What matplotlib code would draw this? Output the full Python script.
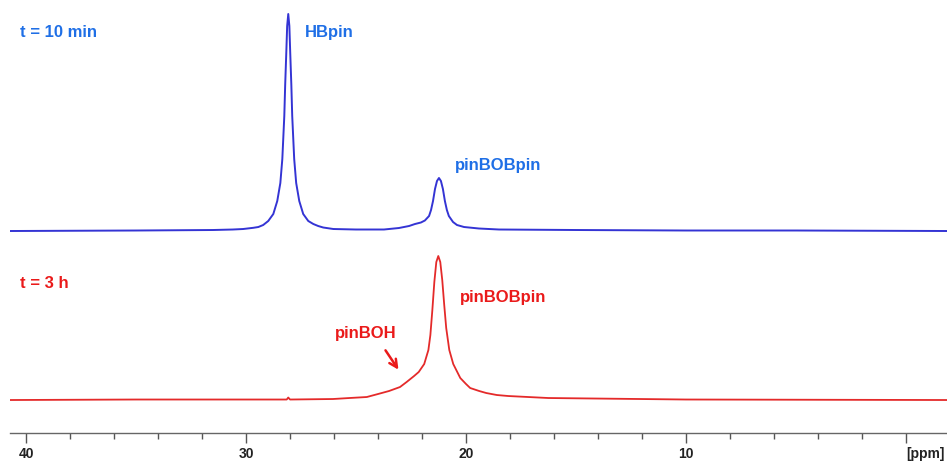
import matplotlib
matplotlib.use("Agg")
import matplotlib.pyplot as plt
from matplotlib.ticker import MultipleLocator, FixedLocator

plt.rcParams['font.family'] = ['Liberation Sans', 'DejaVu Sans']

# 11B spectrum after 10 min: chemical shift (ppm) and intensity (a.u.)
ppm_10min = [40.7, 35.0, 31.5, 30.6, 30.13, 29.67, 29.44, 29.22, 28.99, 28.76,
             28.58, 28.44, 28.35, 28.26, 28.22, 28.17, 28.13, 28.08, 28.03, 27.99,
             27.94, 27.90, 27.81, 27.72, 27.58, 27.40, 27.17, 26.94, 26.72, 26.49,
             26.03, 25.0, 23.73, 23.05, 22.59, 22.32, 22.05, 21.87, 21.68, 21.59,
             21.50, 21.41, 21.32, 21.23, 21.14, 21.05, 20.96, 20.87, 20.78, 20.59,
             20.41, 20.09, 19.41, 18.5, 15.0, 10.0, 5.0, -1.9]
int_10min = [0.0, 0.5, 1.0, 1.5, 2.0, 3.2, 4.0, 6.0, 10.0, 17.0,
             30.0, 48.0, 72.0, 115.0, 146.0, 178.0, 205.0, 217.0, 205.0, 178.0,
             146.0, 115.0, 72.0, 48.0, 30.0, 17.0, 10.0, 7.0, 5.0, 3.5,
             2.0, 1.5, 1.5, 3.0, 5.0, 7.0, 8.5, 10.5, 15.0, 21.0,
             30.0, 42.0, 50.0, 53.0, 50.0, 42.0, 30.0, 21.0, 15.0, 9.0,
             6.0, 4.0, 2.5, 1.5, 1.0, 0.5, 0.5, 0.0]

# 11B spectrum after 3 h
ppm_3h = [40.7, 35.0, 30.0, 28.15, 28.08, 28.0, 26.05, 25.3, 24.51, 24.0,
          23.5, 23.0, 22.7, 22.36, 22.15, 21.90, 21.71, 21.62, 21.53, 21.44,
          21.35, 21.26, 21.17, 21.08, 20.99, 20.90, 20.76, 20.58, 20.26, 20.0,
          19.81, 19.4, 19.08, 18.6, 18.08, 16.26, 10.0, -1.9]
int_3h = [0.0, 0.5, 0.5, 0.5, 2.5, 0.5, 1.0, 2.0, 3.0, 6.0,
          9.0, 13.0, 18.0, 24.0, 28.0, 36.0, 50.0, 65.0, 90.0, 118.0,
          138.0, 144.0, 138.0, 120.0, 95.0, 72.0, 50.0, 36.0, 22.0, 16.0,
          12.0, 9.0, 7.0, 5.0, 4.0, 2.0, 0.5, 0.0]

offset_10min = 202
offset_3h = 33

blue_line = '#3434d4'
blue_text = '#1f6fe6'
red_line = '#e42a2a'
red_text = '#ea1a1a'

fig = plt.figure(figsize=(9.47, 4.61), dpi=100)
ax = fig.add_axes([0.0106, 0.0607, 0.9894, 0.9393])

ax.plot(ppm_10min, [v + offset_10min for v in int_10min], color=blue_line, lw=1.4)
ax.plot(ppm_3h, [v + offset_3h for v in int_3h], color=red_line, lw=1.3)

ax.set_xlim(40.727, -1.864)
ax.set_ylim(0, 433)

for s in ['top', 'left', 'right']:
    ax.spines[s].set_visible(False)
ax.spines['bottom'].set_color('#666666')
ax.spines['bottom'].set_linewidth(1.0)
ax.set_yticks([])

ax.xaxis.set_major_locator(FixedLocator([40, 30, 20, 10, 0]))
ax.xaxis.set_minor_locator(MultipleLocator(2))
ax.set_xticklabels(['40', '30', '20', '10', '[ppm]'], fontsize=10,
                   fontweight='bold', color='#222222')
ax.tick_params(axis='x', which='major', length=7, width=1.0, color='#555555', pad=3)
ax.tick_params(axis='x', which='minor', length=4, width=1.0, color='#555555')
ax.get_xticklabels()[-1].set_horizontalalignment('left')

lab = dict(fontsize=12, fontweight='bold', va='center')
ax.text(40.27, 401, 't = 10 min', color=blue_text, ha='left', **lab)
ax.text(27.32, 401, 'HBpin', color=blue_text, ha='left', **lab)
ax.text(20.5, 268, 'pinBOBpin', color=blue_text, ha='left', **lab)

ax.text(40.27, 150, 't = 3 h', color=red_text, ha='left', **lab)
ax.text(20.27, 136, 'pinBOBpin', color=red_text, ha='left', **lab)
ax.text(24.55, 100, 'pinBOH', color=red_text, ha='center', **lab)
ax.annotate('', xy=(23.0, offset_3h + 28), xytext=(23.73, offset_3h + 52),
            arrowprops=dict(arrowstyle='->', color=red_text, lw=1.8,
                            mutation_scale=14))

fig.savefig('out.png', dpi=100)
